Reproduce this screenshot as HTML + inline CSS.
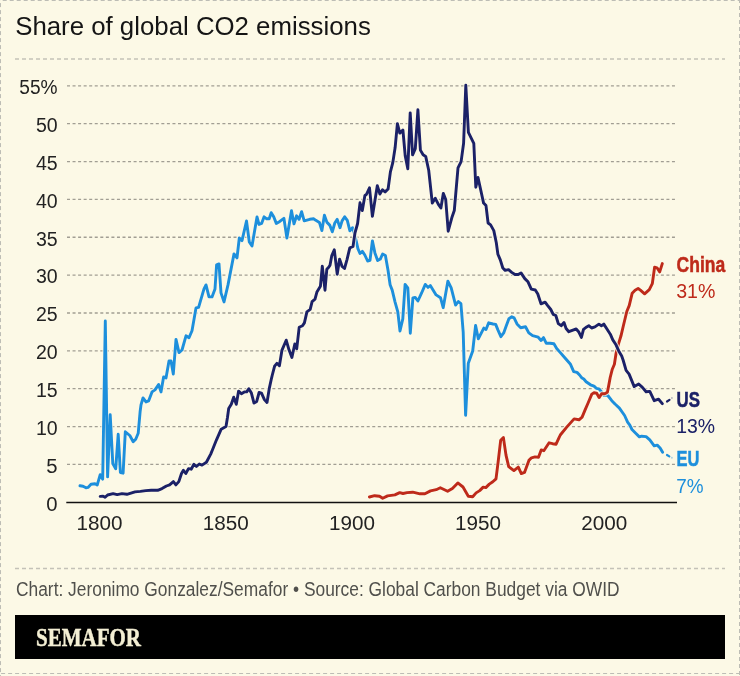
<!DOCTYPE html>
<html><head><meta charset="utf-8"><style>
html,body{margin:0;padding:0;background:#fcf9e6;}
body{width:740px;height:676px;overflow:hidden;position:relative;}
svg{position:absolute;left:0;top:0;will-change:transform;}
text{font-family:"Liberation Sans",sans-serif;}
</style></head><body>
<svg width="740" height="676" viewBox="0 0 740 676">
<rect x="0" y="0" width="740" height="676" fill="#fcf9e6"/>
<g fill="none" stroke="#bdbdb5" stroke-width="1" stroke-dasharray="4 3">
<line x1="0" y1="0.5" x2="740" y2="0.5" stroke-dashoffset="-2.7"/>
<line x1="0.5" y1="0" x2="0.5" y2="676" stroke-dashoffset="-3.1"/>
<line x1="739.5" y1="0" x2="739.5" y2="676" stroke-dashoffset="-6"/>
<line x1="0" y1="673.5" x2="740" y2="673.5" stroke-dashoffset="-1.1"/>
</g>
<g fill="none" stroke="#c4c2b8" stroke-width="1.5" stroke-dasharray="4 3">
<line x1="15" y1="58.9" x2="725" y2="58.9"/>
<line x1="15" y1="568.6" x2="725" y2="568.6"/>
</g>
<text x="15.2" y="34.5" font-size="25" fill="#151515" textLength="355.6" lengthAdjust="spacingAndGlyphs">Share of global CO2 emissions</text>
<g stroke="#a19e93" stroke-width="1.3" stroke-dasharray="3 2.55" fill="none">
<line x1="67" y1="464.39" x2="675.5" y2="464.39" /><line x1="67" y1="426.54" x2="675.5" y2="426.54" /><line x1="67" y1="388.69" x2="675.5" y2="388.69" /><line x1="67" y1="350.83" x2="675.5" y2="350.83" /><line x1="67" y1="312.98" x2="675.5" y2="312.98" /><line x1="67" y1="275.12" x2="675.5" y2="275.12" /><line x1="67" y1="237.26" x2="675.5" y2="237.26" /><line x1="67" y1="199.41" x2="675.5" y2="199.41" /><line x1="67" y1="161.55" x2="675.5" y2="161.55" /><line x1="67" y1="123.70" x2="675.5" y2="123.70" /><line x1="67" y1="85.84" x2="675.5" y2="85.84" />
</g>
<line x1="66.3" y1="502.4" x2="677" y2="502.4" stroke="#111" stroke-width="1.5"/>
<g font-size="20.3" fill="#222">
<text x="57.6" y="510.5" text-anchor="end">0</text><text x="57.6" y="472.6" text-anchor="end">5</text><text x="57.6" y="434.8" text-anchor="end" textLength="21.7" lengthAdjust="spacingAndGlyphs">10</text><text x="57.6" y="396.9" text-anchor="end" textLength="21.7" lengthAdjust="spacingAndGlyphs">15</text><text x="57.6" y="359.1" text-anchor="end" textLength="21.7" lengthAdjust="spacingAndGlyphs">20</text><text x="57.6" y="321.2" text-anchor="end" textLength="21.7" lengthAdjust="spacingAndGlyphs">25</text><text x="57.6" y="283.4" text-anchor="end" textLength="21.7" lengthAdjust="spacingAndGlyphs">30</text><text x="57.6" y="245.5" text-anchor="end" textLength="21.7" lengthAdjust="spacingAndGlyphs">35</text><text x="57.6" y="207.7" text-anchor="end" textLength="21.7" lengthAdjust="spacingAndGlyphs">40</text><text x="57.6" y="169.8" text-anchor="end" textLength="21.7" lengthAdjust="spacingAndGlyphs">45</text><text x="57.6" y="131.9" text-anchor="end" textLength="21.7" lengthAdjust="spacingAndGlyphs">50</text><text x="57.6" y="94.1" text-anchor="end" textLength="38.3" lengthAdjust="spacingAndGlyphs">55%</text>
<text x="99.5" y="530.2" text-anchor="middle" textLength="46" lengthAdjust="spacingAndGlyphs">1800</text><text x="225.7" y="530.2" text-anchor="middle" textLength="46" lengthAdjust="spacingAndGlyphs">1850</text><text x="351.9" y="530.2" text-anchor="middle" textLength="46" lengthAdjust="spacingAndGlyphs">1900</text><text x="478.1" y="530.2" text-anchor="middle" textLength="46" lengthAdjust="spacingAndGlyphs">1950</text><text x="604.3" y="530.2" text-anchor="middle" textLength="46" lengthAdjust="spacingAndGlyphs">2000</text>
</g>
<g fill="none" stroke-linejoin="round" stroke-linecap="round">
<path d="M80.0,485.8 L83.0,486.2 L86.0,487.8 L88.0,487.4 L91.0,484.2 L95.0,483.8 L97.2,485.1 L100.2,474.7 L101.7,477.7 L102.7,479.1 L105.3,321.0 L107.6,476.9 L110.2,414.8 L112.8,463.6 L115.7,468.8 L118.2,434.3 L120.4,472.5 L123.1,473.2 L125.3,431.8 L129.8,435.5 L133.2,441.7 L135.7,439.2 L138.2,433.3 L140.1,411.8 L141.0,404.9 L143.0,397.9 L146.0,401.9 L148.6,400.9 L152.0,391.9 L155.0,389.9 L158.6,384.5 L161.0,391.9 L163.6,376.9 L166.0,377.9 L169.0,361.0 L171.0,361.0 L173.3,374.0 L176.0,339.4 L179.0,352.6 L182.0,350.0 L186.0,335.8 L189.0,337.8 L192.0,330.8 L196.0,307.9 L198.6,307.3 L204.0,288.9 L206.0,284.9 L209.0,296.9 L212.0,296.9 L215.0,288.9 L216.6,264.9 L219.0,263.9 L221.0,292.9 L224.0,301.9 L228.0,284.9 L234.0,253.9 L237.0,257.9 L239.3,238.0 L242.0,240.6 L246.5,221.0 L249.3,242.0 L252.0,246.0 L257.0,217.0 L259.0,224.4 L261.6,223.4 L264.1,216.8 L266.7,218.8 L269.2,218.8 L271.2,212.7 L273.7,216.8 L276.3,223.4 L279.8,221.4 L283.9,218.3 L286.9,238.1 L291.5,210.7 L294.0,223.9 L296.6,215.8 L299.1,219.3 L301.6,211.7 L304.2,220.8 L309.7,219.3 L313.8,218.8 L315.8,220.3 L319.4,222.4 L321.9,230.5 L324.4,215.3 L327.0,222.4 L329.7,225.1 L332.3,231.8 L334.8,223.0 L337.2,219.4 L340.0,227.7 L342.1,220.9 L344.7,216.8 L347.3,220.4 L349.9,230.8 L352.5,227.7 L354.2,233.0 L356.3,241.3 L357.9,248.6 L360.0,253.5 L362.4,251.4 L364.8,255.0 L367.6,261.0 L370.0,260.3 L372.4,240.9 L374.9,252.9 L377.6,260.6 L380.3,259.1 L382.6,254.0 L385.4,255.5 L388.1,270.7 L390.1,284.7 L392.2,290.1 L395.0,301.8 L397.8,311.9 L400.0,331.0 L402.8,318.9 L405.1,284.4 L407.8,287.8 L410.3,333.2 L412.9,297.9 L415.2,297.4 L417.9,301.0 L421.5,293.2 L425.3,284.4 L428.0,287.4 L430.3,285.5 L436.1,294.9 L440.5,297.7 L443.2,307.7 L447.9,281.1 L451.2,287.8 L455.6,305.1 L458.3,301.5 L460.9,303.7 L463.2,332.1 L465.6,415.3 L468.3,363.2 L472.7,351.0 L475.6,325.5 L478.3,338.8 L483.8,328.1 L486.0,329.5 L488.7,322.8 L493.0,324.0 L495.7,324.4 L498.0,330.1 L500.9,336.7 L503.7,332.9 L506.1,326.3 L508.9,318.7 L511.8,316.8 L514.1,317.8 L517.0,323.9 L520.7,327.7 L525.5,326.8 L528.8,332.9 L532.6,335.7 L538.2,337.2 L541.1,340.5 L543.5,337.6 L546.3,343.3 L550.1,343.3 L553.9,343.8 L556.7,348.5 L559.9,352.1 L564.8,357.8 L570.5,364.3 L573.7,371.6 L577.0,372.4 L579.6,375.0 L581.6,377.7 L583.8,379.0 L586.1,381.7 L590.5,384.8 L594.0,386.1 L596.3,388.3 L598.9,388.8 L601.1,391.4 L603.8,395.4 L607.4,395.0 L611.8,400.7 L615.0,404.0 L619.4,408.1 L624.6,415.5 L627.6,422.1 L629.8,425.1 L632.0,429.5 L635.7,433.2 L639.4,436.9 L641.6,436.2 L646.1,436.6 L649.8,439.9 L654.2,445.8 L657.2,445.1 L660.1,448.0 L662.6,452.3" stroke="#fcf9e6" stroke-width="4.9" opacity="0.8"/>
<path d="M80.0,485.8 L83.0,486.2 L86.0,487.8 L88.0,487.4 L91.0,484.2 L95.0,483.8 L97.2,485.1 L100.2,474.7 L101.7,477.7 L102.7,479.1 L105.3,321.0 L107.6,476.9 L110.2,414.8 L112.8,463.6 L115.7,468.8 L118.2,434.3 L120.4,472.5 L123.1,473.2 L125.3,431.8 L129.8,435.5 L133.2,441.7 L135.7,439.2 L138.2,433.3 L140.1,411.8 L141.0,404.9 L143.0,397.9 L146.0,401.9 L148.6,400.9 L152.0,391.9 L155.0,389.9 L158.6,384.5 L161.0,391.9 L163.6,376.9 L166.0,377.9 L169.0,361.0 L171.0,361.0 L173.3,374.0 L176.0,339.4 L179.0,352.6 L182.0,350.0 L186.0,335.8 L189.0,337.8 L192.0,330.8 L196.0,307.9 L198.6,307.3 L204.0,288.9 L206.0,284.9 L209.0,296.9 L212.0,296.9 L215.0,288.9 L216.6,264.9 L219.0,263.9 L221.0,292.9 L224.0,301.9 L228.0,284.9 L234.0,253.9 L237.0,257.9 L239.3,238.0 L242.0,240.6 L246.5,221.0 L249.3,242.0 L252.0,246.0 L257.0,217.0 L259.0,224.4 L261.6,223.4 L264.1,216.8 L266.7,218.8 L269.2,218.8 L271.2,212.7 L273.7,216.8 L276.3,223.4 L279.8,221.4 L283.9,218.3 L286.9,238.1 L291.5,210.7 L294.0,223.9 L296.6,215.8 L299.1,219.3 L301.6,211.7 L304.2,220.8 L309.7,219.3 L313.8,218.8 L315.8,220.3 L319.4,222.4 L321.9,230.5 L324.4,215.3 L327.0,222.4 L329.7,225.1 L332.3,231.8 L334.8,223.0 L337.2,219.4 L340.0,227.7 L342.1,220.9 L344.7,216.8 L347.3,220.4 L349.9,230.8 L352.5,227.7 L354.2,233.0 L356.3,241.3 L357.9,248.6 L360.0,253.5 L362.4,251.4 L364.8,255.0 L367.6,261.0 L370.0,260.3 L372.4,240.9 L374.9,252.9 L377.6,260.6 L380.3,259.1 L382.6,254.0 L385.4,255.5 L388.1,270.7 L390.1,284.7 L392.2,290.1 L395.0,301.8 L397.8,311.9 L400.0,331.0 L402.8,318.9 L405.1,284.4 L407.8,287.8 L410.3,333.2 L412.9,297.9 L415.2,297.4 L417.9,301.0 L421.5,293.2 L425.3,284.4 L428.0,287.4 L430.3,285.5 L436.1,294.9 L440.5,297.7 L443.2,307.7 L447.9,281.1 L451.2,287.8 L455.6,305.1 L458.3,301.5 L460.9,303.7 L463.2,332.1 L465.6,415.3 L468.3,363.2 L472.7,351.0 L475.6,325.5 L478.3,338.8 L483.8,328.1 L486.0,329.5 L488.7,322.8 L493.0,324.0 L495.7,324.4 L498.0,330.1 L500.9,336.7 L503.7,332.9 L506.1,326.3 L508.9,318.7 L511.8,316.8 L514.1,317.8 L517.0,323.9 L520.7,327.7 L525.5,326.8 L528.8,332.9 L532.6,335.7 L538.2,337.2 L541.1,340.5 L543.5,337.6 L546.3,343.3 L550.1,343.3 L553.9,343.8 L556.7,348.5 L559.9,352.1 L564.8,357.8 L570.5,364.3 L573.7,371.6 L577.0,372.4 L579.6,375.0 L581.6,377.7 L583.8,379.0 L586.1,381.7 L590.5,384.8 L594.0,386.1 L596.3,388.3 L598.9,388.8 L601.1,391.4 L603.8,395.4 L607.4,395.0 L611.8,400.7 L615.0,404.0 L619.4,408.1 L624.6,415.5 L627.6,422.1 L629.8,425.1 L632.0,429.5 L635.7,433.2 L639.4,436.9 L641.6,436.2 L646.1,436.6 L649.8,439.9 L654.2,445.8 L657.2,445.1 L660.1,448.0 L662.6,452.3" stroke="#1d8fdc" stroke-width="2.9"/>
<path d="M667,455 L669.3,456.4" stroke="#1d8fdc" stroke-width="2.2" stroke-linecap="round"/>
<circle cx="671.9" cy="457.7" r="1" fill="#1d8fdc" stroke="none" opacity="0.35"/>
<path d="M369.4,497.0 L374.6,495.7 L379.5,496.2 L382.7,498.3 L387.6,495.9 L394.9,494.9 L399.7,492.6 L403.0,493.5 L407.0,492.6 L412.7,492.2 L420.0,493.8 L424.9,493.8 L430.5,490.9 L436.2,489.7 L440.3,487.8 L447.6,491.3 L452.4,488.4 L457.8,482.9 L463.0,487.0 L468.3,496.2 L472.7,496.7 L476.1,492.9 L479.7,490.6 L483.2,487.1 L485.8,487.6 L489.3,484.1 L492.8,481.8 L496.0,478.9 L498.1,462.2 L500.7,440.2 L503.4,437.6 L506.0,455.1 L508.7,466.6 L513.9,470.6 L518.3,467.1 L521.3,473.6 L524.5,472.4 L528.9,460.4 L531.5,457.8 L535.0,456.9 L538.5,457.2 L541.2,449.9 L543.8,450.7 L549.1,442.8 L552.6,443.7 L556.1,444.2 L558.7,438.4 L560.3,435.0 L566.5,427.4 L574.1,418.9 L579.0,419.8 L582.1,417.1 L585.2,409.6 L588.3,402.5 L591.8,394.1 L594.0,392.7 L596.7,393.2 L599.1,397.6 L601.6,393.8 L604.7,393.8 L607.4,392.3 L608.7,385.6 L610.2,377.5 L612.3,369.2 L614.4,364.3 L616.0,353.7 L618.5,343.9 L621.0,335.8 L623.3,326.0 L626.8,311.5 L629.2,305.6 L632.2,293.2 L635.1,290.2 L638.1,288.5 L640.4,290.2 L644.6,293.8 L649.3,289.6 L652.3,283.7 L654.6,267.2 L657.0,267.8 L659.7,271.9 L662.3,263.6" stroke="#fcf9e6" stroke-width="4.9" opacity="0.8"/>
<path d="M369.4,497.0 L374.6,495.7 L379.5,496.2 L382.7,498.3 L387.6,495.9 L394.9,494.9 L399.7,492.6 L403.0,493.5 L407.0,492.6 L412.7,492.2 L420.0,493.8 L424.9,493.8 L430.5,490.9 L436.2,489.7 L440.3,487.8 L447.6,491.3 L452.4,488.4 L457.8,482.9 L463.0,487.0 L468.3,496.2 L472.7,496.7 L476.1,492.9 L479.7,490.6 L483.2,487.1 L485.8,487.6 L489.3,484.1 L492.8,481.8 L496.0,478.9 L498.1,462.2 L500.7,440.2 L503.4,437.6 L506.0,455.1 L508.7,466.6 L513.9,470.6 L518.3,467.1 L521.3,473.6 L524.5,472.4 L528.9,460.4 L531.5,457.8 L535.0,456.9 L538.5,457.2 L541.2,449.9 L543.8,450.7 L549.1,442.8 L552.6,443.7 L556.1,444.2 L558.7,438.4 L560.3,435.0 L566.5,427.4 L574.1,418.9 L579.0,419.8 L582.1,417.1 L585.2,409.6 L588.3,402.5 L591.8,394.1 L594.0,392.7 L596.7,393.2 L599.1,397.6 L601.6,393.8 L604.7,393.8 L607.4,392.3 L608.7,385.6 L610.2,377.5 L612.3,369.2 L614.4,364.3 L616.0,353.7 L618.5,343.9 L621.0,335.8 L623.3,326.0 L626.8,311.5 L629.2,305.6 L632.2,293.2 L635.1,290.2 L638.1,288.5 L640.4,290.2 L644.6,293.8 L649.3,289.6 L652.3,283.7 L654.6,267.2 L657.0,267.8 L659.7,271.9 L662.3,263.6" stroke="#be2a1a" stroke-width="2.9"/>
<path d="M100.2,496.4 L103.1,496.2 L105.1,497.3 L107.6,495.0 L113.1,493.6 L117.2,494.6 L122.0,493.6 L126.9,494.3 L135.0,491.9 L140.4,491.4 L145.8,490.6 L151.2,490.3 L157.7,490.3 L162.0,488.6 L166.4,486.0 L169.6,484.9 L173.4,481.6 L175.9,484.9 L178.8,481.6 L181.5,473.5 L183.4,470.3 L185.8,473.5 L188.5,468.6 L191.2,469.2 L193.9,464.3 L196.4,466.5 L199.3,464.0 L202.0,465.1 L206.4,462.2 L210.7,454.1 L212.4,450.0 L216.5,439.8 L221.2,429.2 L226.0,426.6 L227.5,417.3 L228.7,408.5 L231.3,404.3 L233.7,397.2 L236.3,404.3 L238.6,391.1 L241.4,393.7 L244.3,391.9 L246.7,391.9 L248.8,388.7 L251.4,393.1 L254.0,403.1 L256.7,401.4 L259.1,392.5 L261.5,393.1 L264.4,399.6 L267.0,402.5 L269.2,388.9 L271.5,378.3 L272.3,375.0 L274.6,366.2 L276.9,363.3 L279.4,365.8 L281.9,350.4 L286.2,340.2 L289.0,349.8 L291.9,357.5 L294.8,344.0 L296.7,348.8 L299.2,327.3 L302.5,325.8 L304.4,322.9 L306.9,311.9 L310.2,309.4 L312.1,301.7 L315.0,299.2 L316.9,292.1 L320.4,286.3 L322.3,266.2 L325.0,290.2 L326.8,269.3 L328.7,267.3 L330.0,265.2 L331.7,255.9 L334.3,249.8 L337.2,274.2 L339.6,259.1 L342.1,266.5 L344.5,268.5 L347.0,259.6 L349.8,247.8 L353.0,246.5 L355.0,232.8 L357.6,223.5 L360.0,202.8 L362.3,210.6 L364.9,195.5 L366.4,194.5 L369.5,187.8 L372.4,216.3 L377.3,185.7 L379.9,194.0 L382.5,189.8 L385.1,191.9 L388.1,189.0 L390.4,171.9 L392.8,162.6 L395.1,147.8 L397.4,123.7 L399.8,133.1 L402.9,130.0 L405.2,155.6 L407.8,168.8 L410.2,112.9 L412.6,154.8 L415.3,148.6 L417.9,109.8 L420.4,150.1 L423.1,154.8 L425.7,156.4 L428.7,170.2 L432.3,203.1 L435.3,198.3 L438.4,204.4 L440.9,208.0 L443.3,193.4 L445.7,199.5 L448.2,231.2 L451.8,217.8 L454.3,210.5 L458.0,167.8 L461.1,161.6 L463.6,143.3 L465.8,85.3 L468.4,132.4 L473.8,143.3 L475.8,187.3 L478.0,177.5 L483.6,203.1 L486.0,205.6 L488.1,223.0 L490.6,224.9 L493.8,230.6 L496.3,242.8 L497.9,254.2 L500.3,259.9 L502.8,268.0 L505.2,270.4 L508.5,269.6 L511.7,272.4 L515.0,274.5 L518.2,274.5 L521.0,272.9 L524.8,278.6 L528.0,281.8 L531.3,289.2 L535.3,290.0 L537.8,294.0 L541.0,303.8 L545.1,302.2 L547.5,305.4 L550.8,309.5 L553.2,314.4 L555.8,315.5 L558.3,323.6 L561.2,325.7 L564.0,322.5 L566.1,328.5 L568.8,331.7 L572.9,330.1 L576.2,329.0 L578.6,331.7 L581.4,337.4 L583.5,329.3 L586.7,326.9 L588.8,325.7 L591.6,328.0 L594.9,326.9 L598.9,324.1 L601.4,325.7 L603.8,324.1 L607.1,329.3 L610.3,334.2 L612.8,339.9 L616.0,344.8 L619.3,352.1 L621.7,356.1 L623.1,360.0 L626.1,370.4 L629.1,374.1 L634.2,386.6 L638.7,384.0 L642.4,387.4 L646.1,391.8 L649.8,391.4 L654.2,400.7 L658.6,399.2 L662.3,403.6" stroke="#fcf9e6" stroke-width="4.9" opacity="0.8"/>
<path d="M100.2,496.4 L103.1,496.2 L105.1,497.3 L107.6,495.0 L113.1,493.6 L117.2,494.6 L122.0,493.6 L126.9,494.3 L135.0,491.9 L140.4,491.4 L145.8,490.6 L151.2,490.3 L157.7,490.3 L162.0,488.6 L166.4,486.0 L169.6,484.9 L173.4,481.6 L175.9,484.9 L178.8,481.6 L181.5,473.5 L183.4,470.3 L185.8,473.5 L188.5,468.6 L191.2,469.2 L193.9,464.3 L196.4,466.5 L199.3,464.0 L202.0,465.1 L206.4,462.2 L210.7,454.1 L212.4,450.0 L216.5,439.8 L221.2,429.2 L226.0,426.6 L227.5,417.3 L228.7,408.5 L231.3,404.3 L233.7,397.2 L236.3,404.3 L238.6,391.1 L241.4,393.7 L244.3,391.9 L246.7,391.9 L248.8,388.7 L251.4,393.1 L254.0,403.1 L256.7,401.4 L259.1,392.5 L261.5,393.1 L264.4,399.6 L267.0,402.5 L269.2,388.9 L271.5,378.3 L272.3,375.0 L274.6,366.2 L276.9,363.3 L279.4,365.8 L281.9,350.4 L286.2,340.2 L289.0,349.8 L291.9,357.5 L294.8,344.0 L296.7,348.8 L299.2,327.3 L302.5,325.8 L304.4,322.9 L306.9,311.9 L310.2,309.4 L312.1,301.7 L315.0,299.2 L316.9,292.1 L320.4,286.3 L322.3,266.2 L325.0,290.2 L326.8,269.3 L328.7,267.3 L330.0,265.2 L331.7,255.9 L334.3,249.8 L337.2,274.2 L339.6,259.1 L342.1,266.5 L344.5,268.5 L347.0,259.6 L349.8,247.8 L353.0,246.5 L355.0,232.8 L357.6,223.5 L360.0,202.8 L362.3,210.6 L364.9,195.5 L366.4,194.5 L369.5,187.8 L372.4,216.3 L377.3,185.7 L379.9,194.0 L382.5,189.8 L385.1,191.9 L388.1,189.0 L390.4,171.9 L392.8,162.6 L395.1,147.8 L397.4,123.7 L399.8,133.1 L402.9,130.0 L405.2,155.6 L407.8,168.8 L410.2,112.9 L412.6,154.8 L415.3,148.6 L417.9,109.8 L420.4,150.1 L423.1,154.8 L425.7,156.4 L428.7,170.2 L432.3,203.1 L435.3,198.3 L438.4,204.4 L440.9,208.0 L443.3,193.4 L445.7,199.5 L448.2,231.2 L451.8,217.8 L454.3,210.5 L458.0,167.8 L461.1,161.6 L463.6,143.3 L465.8,85.3 L468.4,132.4 L473.8,143.3 L475.8,187.3 L478.0,177.5 L483.6,203.1 L486.0,205.6 L488.1,223.0 L490.6,224.9 L493.8,230.6 L496.3,242.8 L497.9,254.2 L500.3,259.9 L502.8,268.0 L505.2,270.4 L508.5,269.6 L511.7,272.4 L515.0,274.5 L518.2,274.5 L521.0,272.9 L524.8,278.6 L528.0,281.8 L531.3,289.2 L535.3,290.0 L537.8,294.0 L541.0,303.8 L545.1,302.2 L547.5,305.4 L550.8,309.5 L553.2,314.4 L555.8,315.5 L558.3,323.6 L561.2,325.7 L564.0,322.5 L566.1,328.5 L568.8,331.7 L572.9,330.1 L576.2,329.0 L578.6,331.7 L581.4,337.4 L583.5,329.3 L586.7,326.9 L588.8,325.7 L591.6,328.0 L594.9,326.9 L598.9,324.1 L601.4,325.7 L603.8,324.1 L607.1,329.3 L610.3,334.2 L612.8,339.9 L616.0,344.8 L619.3,352.1 L621.7,356.1 L623.1,360.0 L626.1,370.4 L629.1,374.1 L634.2,386.6 L638.7,384.0 L642.4,387.4 L646.1,391.8 L649.8,391.4 L654.2,400.7 L658.6,399.2 L662.3,403.6" stroke="#1b2167" stroke-width="2.9"/>
<path d="M667,401.5 L669.5,399.9" stroke="#1b2167" stroke-width="2.2" stroke-linecap="round"/>
<circle cx="671.9" cy="398.1" r="1" fill="#1b2167" stroke="none" opacity="0.3"/>
</g>
<g font-size="19">
<text x="676.6" y="271.8" font-size="21.2" fill="#be2a1a" stroke="#be2a1a" stroke-width="0.5" font-weight="bold" textLength="48.6" lengthAdjust="spacingAndGlyphs">China</text>
<text x="676.2" y="298.1" font-size="20.8" fill="#be2a1a" textLength="39.2" lengthAdjust="spacingAndGlyphs">31%</text>
<text x="676.6" y="406.8" font-size="21.6" fill="#1b2167" stroke="#1b2167" stroke-width="0.5" font-weight="bold" textLength="23.4" lengthAdjust="spacingAndGlyphs">US</text>
<text x="676.2" y="433.3" font-size="20.8" fill="#1b2167" textLength="38.9" lengthAdjust="spacingAndGlyphs">13%</text>
<text x="676.6" y="466.3" font-size="21.6" fill="#1d8fdc" stroke="#1d8fdc" stroke-width="0.5" font-weight="bold" textLength="22.9" lengthAdjust="spacingAndGlyphs">EU</text>
<text x="676.2" y="493.1" font-size="20.8" fill="#1d8fdc" textLength="27.3" lengthAdjust="spacingAndGlyphs">7%</text>
</g>
<text x="16" y="595.9" font-size="20" fill="#50504c" textLength="603.5" lengthAdjust="spacingAndGlyphs">Chart: Jeronimo Gonzalez/Semafor • Source: Global Carbon Budget via OWID</text>
<rect x="15" y="615" width="710" height="44" fill="#000"/>
<text x="36" y="645.8" font-family="Liberation Serif" font-weight="bold" font-size="25.5" fill="#f4efd4" stroke="#f4efd4" stroke-width="0.45" textLength="105" lengthAdjust="spacingAndGlyphs" style="font-family:'Liberation Serif',serif">SEMAFOR</text>
</svg>
</body></html>
